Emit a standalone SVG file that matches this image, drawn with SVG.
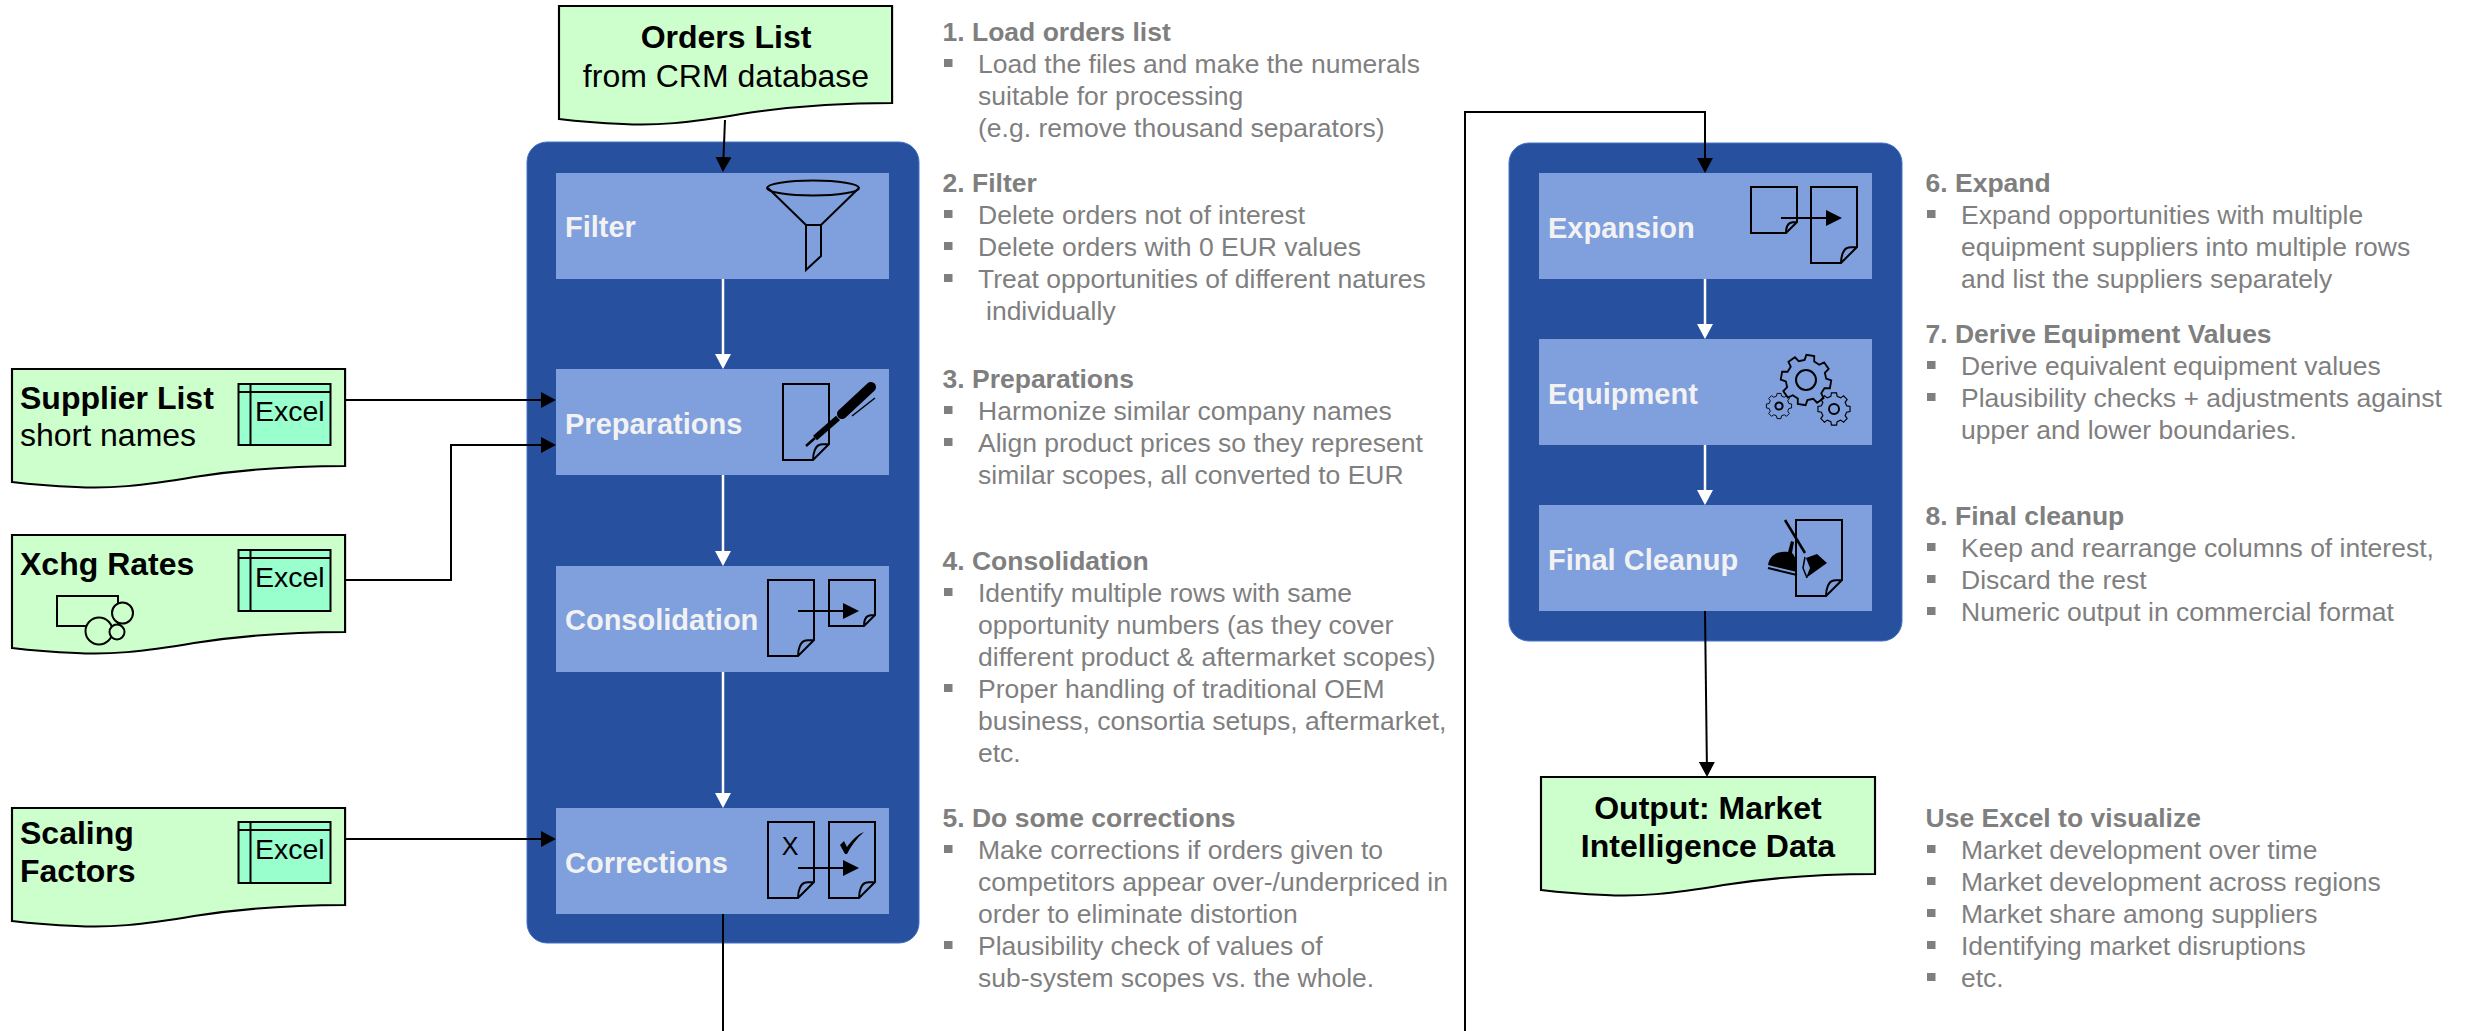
<svg xmlns="http://www.w3.org/2000/svg" width="2473" height="1031" viewBox="0 0 2473 1031">
<style>
text{font-family:"Liberation Sans",Arial,sans-serif}
.doc{fill:#CCFFCC;stroke:#000;stroke-width:2;vector-effect:non-scaling-stroke}
.dt{font-size:32px;fill:#000}
.b{font-weight:700}
.xl{fill:#99FFCC;stroke:#000;stroke-width:2}
.xt{font-size:28.5px;fill:#000}
.panel{fill:#27509F;stroke:#4472C4;stroke-width:1}
.blk{fill:#7F9FDD}
.lbl{font-size:29px;font-weight:700;fill:#F2F2F2}
.h{font-size:26.5px;font-weight:700;fill:#7F7F7F}
.t{font-size:26.5px;fill:#7F7F7F}
.bu{fill:#7F7F7F}
.k{fill:none;stroke:#000;stroke-width:2}
.w{fill:none;stroke:#fff;stroke-width:2.5}
.ic{fill:none;stroke:#000;stroke-width:2}
.gear{fill:none;stroke:#000;stroke-width:1.8;vector-effect:non-scaling-stroke}
</style>
<defs>
<marker id="ab" markerUnits="userSpaceOnUse" markerWidth="16" markerHeight="16" refX="12" refY="8" orient="auto"><path d="M0,0L15,8L0,16z" fill="#000"/></marker>
<marker id="aw" markerUnits="userSpaceOnUse" markerWidth="16" markerHeight="16" refX="12" refY="8" orient="auto"><path d="M0,0L15,8L0,16z" fill="#fff"/></marker>
<path id="docshape" d="M0,0H311V97C250,97 200,103 170,108C120,117 90,120 60,118C35,117 15,115 0,113Z"/>
<path id="tall" d="M0,0H46V60L30,76H0ZM30,76C30,68 33,62 36,61C39,60 43,60 46,60"/>
<path id="small" d="M0,0H46V35L35,46H0ZM35,46C35,41 37,37 39,36C41,35 43,35 46,35"/>
<path id="gearp" d="M19.4,-4.84L24.7,-3.91L24.7,3.91L19.4,4.84L17.14,10.3L20.23,14.7L14.7,20.23L10.3,17.14L4.84,19.4L3.91,24.7L-3.91,24.7L-4.84,19.4L-10.3,17.14L-14.7,20.23L-20.23,14.7L-17.14,10.3L-19.4,4.84L-24.7,3.91L-24.7,-3.91L-19.4,-4.84L-17.14,-10.3L-20.23,-14.7L-14.7,-20.23L-10.3,-17.14L-4.84,-19.4L-3.91,-24.7L3.91,-24.7L4.84,-19.4L10.3,-17.14L14.7,-20.23L20.23,-14.7L17.14,-10.3Z"/>
<g id="excel"><rect class="xl" x="0" y="0" width="92" height="61"/><path class="ic" d="M0,8H92M12,0V61"/></g>
<rect id="bul" class="bu" width="8.5" height="8"/>
</defs>

<g id="panel-left"><rect class="panel" x="527" y="142" width="392" height="801" rx="20"/></g>
<g id="panel-right"><rect class="panel" x="1509" y="143" width="393" height="498" rx="20"/></g>

<g id="node-orders"><use href="#docshape" class="doc" transform="translate(559,6) scale(1.071,1)"/>
<text class="dt b" x="726" y="48" text-anchor="middle">Orders List</text><text class="dt" x="726" y="87" text-anchor="middle">from CRM database</text></g>

<g id="node-supplier"><use href="#docshape" class="doc" transform="translate(12,369) scale(1.071,1)"/>
<text class="dt b" x="20" y="409">Supplier List</text><text class="dt" x="20" y="446">short names</text>
<use href="#excel" transform="translate(238.500,384)"/><text class="xt" x="255" y="421">Excel</text></g>

<g id="node-xchg"><use href="#docshape" class="doc" transform="translate(12,535) scale(1.071,1)"/>
<text class="dt b" x="20" y="575">Xchg Rates</text>
<use href="#excel" transform="translate(238.500,550)"/><text class="xt" x="255" y="587">Excel</text>
<rect class="ic" x="57" y="596" width="61" height="30"/><circle cx="122.500" cy="613" r="10.500" fill="#CCFFCC" stroke="#000" stroke-width="2"/><circle cx="99" cy="631" r="13.500" fill="#CCFFCC" stroke="#000" stroke-width="2"/><circle cx="117" cy="632" r="7.500" fill="#CCFFCC" stroke="#000" stroke-width="2"/></g>

<g id="node-scaling"><use href="#docshape" class="doc" transform="translate(12,808) scale(1.071,1)"/>
<text class="dt b" x="20" y="844">Scaling</text><text class="dt b" x="20" y="882">Factors</text>
<use href="#excel" transform="translate(238.500,822)"/><text class="xt" x="255" y="859">Excel</text></g>

<g id="node-output"><use href="#docshape" class="doc" transform="translate(1541,777) scale(1.074,1)"/>
<text class="dt b" x="1708" y="819" text-anchor="middle">Output: Market</text><text class="dt b" x="1708" y="857" text-anchor="middle">Intelligence Data</text></g>

<g id="node-filter"><rect class="blk" x="556" y="173" width="333" height="106"/><text class="lbl" x="565" y="237">Filter</text>
<ellipse class="ic" cx="813" cy="188" rx="46" ry="7.500"/><path class="ic" d="M768,188L806,225H821L859,188M806,225V270L821,256V225"/></g>

<g id="node-preparations"><rect class="blk" x="556" y="369" width="333" height="106"/><text class="lbl" x="565" y="434">Preparations</text>
<use href="#tall" class="ic" transform="translate(783,384)"/>
<path d="M842,414L871,387" stroke="#000" stroke-width="10" stroke-linecap="round" fill="none"/><path d="M838,418L815,438" stroke="#000" stroke-width="6" fill="none"/><path d="M815,438L806,446" stroke="#000" stroke-width="2.500" fill="none"/><path d="M852,416L875,398" stroke="#000" stroke-width="1.500" fill="none"/></g>

<g id="node-consolidation"><rect class="blk" x="556" y="566" width="333" height="106"/><text class="lbl" x="565" y="630">Consolidation</text>
<use href="#tall" class="ic" transform="translate(768,580)"/><use href="#small" class="ic" transform="translate(829,580)"/>
<path d="M798,611H844" stroke="#000" stroke-width="2"/><path d="M843,603L859,611L843,619Z" fill="#000"/></g>

<g id="node-corrections"><rect class="blk" x="556" y="808" width="333" height="106"/><text class="lbl" x="565" y="873">Corrections</text>
<use href="#tall" class="ic" transform="translate(768,822)"/><use href="#tall" class="ic" transform="translate(829,822)"/>
<text x="790" y="855" text-anchor="middle" font-size="25" fill="#000">X</text>
<path d="M840,845L844,841L847,847C851,841 858,834 864,832C857,838 851,846 847,854L845,854Z" fill="#000"/>
<path d="M798,868H844" stroke="#000" stroke-width="2"/><path d="M843,860L859,868L843,876Z" fill="#000"/></g>

<g id="node-expansion"><rect class="blk" x="1539" y="173" width="333" height="106"/><text class="lbl" x="1548" y="238">Expansion</text>
<use href="#small" class="ic" transform="translate(1751,187)"/><use href="#tall" class="ic" transform="translate(1811,187)"/>
<path d="M1781,218H1827" stroke="#000" stroke-width="2"/><path d="M1826,210L1842,218L1826,226Z" fill="#000"/></g>

<g id="node-equipment"><rect class="blk" x="1539" y="339" width="333" height="106"/><text class="lbl" x="1548" y="404">Equipment</text>
<use href="#gearp" class="gear" transform="translate(1806,380) scale(1.01) rotate(10)"/><circle class="ic" cx="1806" cy="380" r="10"/>
<use href="#gearp" class="gear" transform="translate(1779,406) scale(.51)"/><circle class="ic" cx="1779" cy="406" r="3.600"/>
<use href="#gearp" class="gear" transform="translate(1834,409) scale(.65)"/><circle class="ic" cx="1834" cy="409" r="5"/></g>

<g id="node-cleanup"><rect class="blk" x="1539" y="505" width="333" height="106"/><text class="lbl" x="1548" y="570">Final Cleanup</text>
<use href="#tall" class="ic" transform="translate(1796,520)"/>
<path d="M1785,520L1805,553" stroke="#000" stroke-width="2.500" fill="none"/>
<path d="M1806,558L1817,554L1827,563L1806,578L1810,568Z" fill="#000"/><path d="M1805,557L1803,568L1807,578" fill="none" stroke="#000" stroke-width="1.500"/>
<path d="M1768,565C1770,553 1780,551 1788,552L1791,541L1794,542L1792,553C1796,556 1797,565 1797,572Z" fill="#000"/><path d="M1768,568L1797,575" stroke="#000" stroke-width="2" fill="none"/></g>

<g id="connectors">
<path class="k" d="M725,120L723,169" marker-end="url(#ab)"/>
<path class="w" d="M723,279V366" marker-end="url(#aw)"/>
<path class="w" d="M723,475V563" marker-end="url(#aw)"/>
<path class="w" d="M723,672V805" marker-end="url(#aw)"/>
<path class="k" d="M346,400H553" marker-end="url(#ab)"/>
<path class="k" d="M346,580H451V445H553" marker-end="url(#ab)"/>
<path class="k" d="M346,839H553" marker-end="url(#ab)"/>
<path class="k" d="M723,914V1031"/>
<path class="k" d="M1465,1031V112H1705V170" marker-end="url(#ab)"/>
<path class="w" d="M1705,279V336" marker-end="url(#aw)"/>
<path class="w" d="M1705,445V502" marker-end="url(#aw)"/>
<path class="k" d="M1705,611L1707,774" marker-end="url(#ab)"/>
</g>

<g id="notes-left">
<text class="h" x="942.500" y="41">1. Load orders list</text>
<use href="#bul" x="944" y="59"/><text class="t" x="978" y="73">Load the files and make the numerals</text>
<text class="t" x="978" y="105">suitable for processing</text>
<text class="t" x="978" y="137">(e.g. remove thousand separators)</text>
<text class="h" x="942.500" y="192">2. Filter</text>
<use href="#bul" x="944" y="210"/><text class="t" x="978" y="224">Delete orders not of interest</text>
<use href="#bul" x="944" y="242"/><text class="t" x="978" y="256">Delete orders with 0 EUR values</text>
<use href="#bul" x="944" y="274"/><text class="t" x="978" y="288">Treat opportunities of different natures</text>
<text class="t" x="986" y="320">individually</text>
<text class="h" x="942.500" y="388">3. Preparations</text>
<use href="#bul" x="944" y="406"/><text class="t" x="978" y="420">Harmonize similar company names</text>
<use href="#bul" x="944" y="438"/><text class="t" x="978" y="452">Align product prices so they represent</text>
<text class="t" x="978" y="484">similar scopes, all converted to EUR</text>
<text class="h" x="942.500" y="570">4. Consolidation</text>
<use href="#bul" x="944" y="588"/><text class="t" x="978" y="602">Identify multiple rows with same</text>
<text class="t" x="978" y="634">opportunity numbers (as they cover</text>
<text class="t" x="978" y="666">different product &amp; aftermarket scopes)</text>
<use href="#bul" x="944" y="684"/><text class="t" x="978" y="698">Proper handling of traditional OEM</text>
<text class="t" x="978" y="730">business, consortia setups, aftermarket,</text>
<text class="t" x="978" y="762">etc.</text>
<text class="h" x="942.500" y="827">5. Do some corrections</text>
<use href="#bul" x="944" y="845"/><text class="t" x="978" y="859">Make corrections if orders given to</text>
<text class="t" x="978" y="891">competitors appear over-/underpriced in</text>
<text class="t" x="978" y="923">order to eliminate distortion</text>
<use href="#bul" x="944" y="941"/><text class="t" x="978" y="955">Plausibility check of values of</text>
<text class="t" x="978" y="987">sub-system scopes vs. the whole.</text>
</g>

<g id="notes-right">
<text class="h" x="1925.500" y="192">6. Expand</text>
<use href="#bul" x="1927" y="210"/><text class="t" x="1961" y="224">Expand opportunities with multiple</text>
<text class="t" x="1961" y="256">equipment suppliers into multiple rows</text>
<text class="t" x="1961" y="288">and list the suppliers separately</text>
<text class="h" x="1925.500" y="343">7. Derive Equipment Values</text>
<use href="#bul" x="1927" y="361"/><text class="t" x="1961" y="375">Derive equivalent equipment values</text>
<use href="#bul" x="1927" y="393"/><text class="t" x="1961" y="407">Plausibility checks + adjustments against</text>
<text class="t" x="1961" y="439">upper and lower boundaries.</text>
<text class="h" x="1925.500" y="525">8. Final cleanup</text>
<use href="#bul" x="1927" y="543"/><text class="t" x="1961" y="557">Keep and rearrange columns of interest,</text>
<use href="#bul" x="1927" y="575"/><text class="t" x="1961" y="589">Discard the rest</text>
<use href="#bul" x="1927" y="607"/><text class="t" x="1961" y="621">Numeric output in commercial format</text>
<text class="h" x="1925.500" y="827">Use Excel to visualize</text>
<use href="#bul" x="1927" y="845"/><text class="t" x="1961" y="859">Market development over time</text>
<use href="#bul" x="1927" y="877"/><text class="t" x="1961" y="891">Market development across regions</text>
<use href="#bul" x="1927" y="909"/><text class="t" x="1961" y="923">Market share among suppliers</text>
<use href="#bul" x="1927" y="941"/><text class="t" x="1961" y="955">Identifying market disruptions</text>
<use href="#bul" x="1927" y="973"/><text class="t" x="1961" y="987">etc.</text>
</g>
</svg>
